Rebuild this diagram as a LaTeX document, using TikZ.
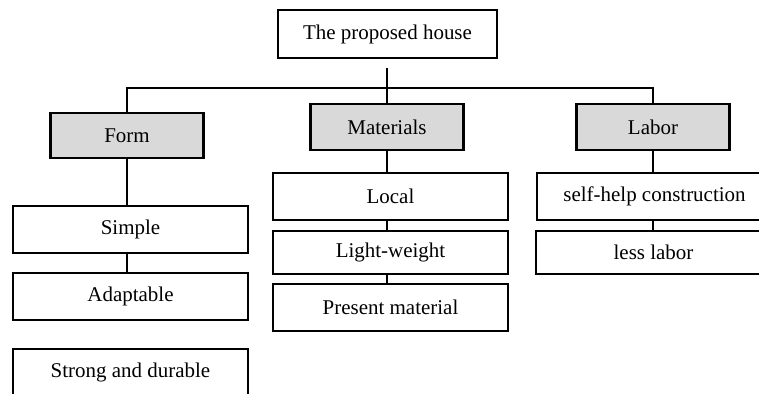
\documentclass[tikz,border=0pt]{standalone}
\usepackage{fontspec}
\setmainfont{Liberation Serif}
\usetikzlibrary{positioning}

\begin{document}
\begin{tikzpicture}[x=0.03cm,y=-0.03cm,line width=2.3pt,
  box/.style={draw,inner sep=0pt,minimum width=7.05cm,minimum height=1.41cm,
    font=\fontsize{17.9}{20}\selectfont},
  head/.style={box,fill=gray!30,minimum width=4.59cm,minimum height=1.38cm}]

  \path[use as bounding box,clip] (0,0) rectangle (759,394);

  % Define nodes
  \node[box,minimum width=6.57cm,minimum height=1.44cm] (house) at (387.5,34) {The proposed house};
  \node[head,minimum height=1.35cm] (form)      at (127,135.5) {Form};
  \node[head]                       (materials) at (387,127)   {Materials};
  \node[head]                       (labor)     at (653,127)   {Labor};

  \node[box] (simple)    at (130.5,229.5) {Simple};
  \node[box] (adaptable) at (130.5,296.5) {Adaptable};
  \node[box] (strong)    at (130.5,372.5) {Strong and durable};

  \node[box]                     (local)   at (390.5,196.5) {Local};
  \node[box,minimum height=1.29cm] (light) at (390.5,252.5) {Light-weight};
  \node[box]                     (present) at (390.5,307.5) {Present material};

  \node[box]                       (selfhelp) at (654.5,196.5) {self-help construction};
  \node[box,minimum height=1.29cm] (less)     at (653.5,252.5) {less labor};

  \coordinate (stem) at (387,68);
  \coordinate (bar)  at (387,88);

  % Connections
  \draw (stem) -- (materials.north);
  \draw (form.north) |- (bar) -| (labor.north);
  \draw (form.south) -- (form.south |- simple.north);
  \draw (form.south |- simple.south) -- (form.south |- adaptable.north);
  \draw (materials.south) -- (materials.south |- local.north);
  \draw (materials.south |- local.south) -- (materials.south |- light.north);
  \draw (materials.south |- light.south) -- (materials.south |- present.north);
  \draw (labor.south) -- (labor.south |- selfhelp.north);
  \draw (labor.south |- selfhelp.south) -- (labor.south |- less.north);

\end{tikzpicture}
\end{document}
